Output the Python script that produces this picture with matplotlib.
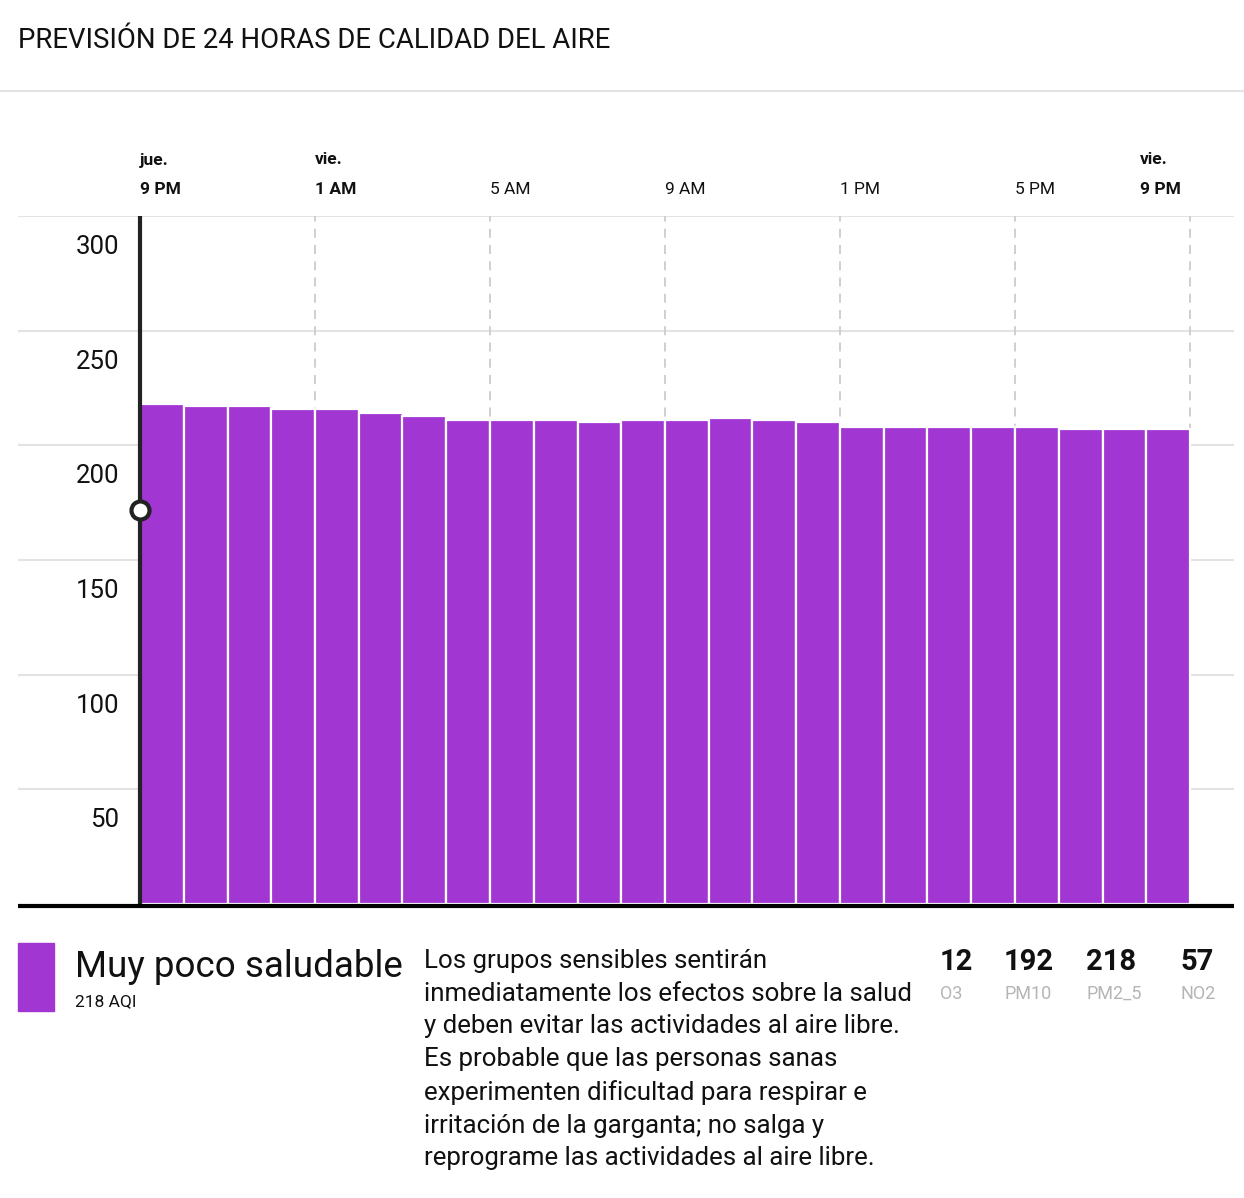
import matplotlib
matplotlib.use("Agg")
import matplotlib.pyplot as plt
import matplotlib.transforms as mtransforms

# forecast data (AQI per hour, starting jue. 9 PM)
aqi = [218, 217, 217, 216, 216, 214, 213, 211, 211, 211, 210, 211,
       211, 212, 211, 210, 208, 208, 208, 208, 208, 207, 207, 207]
tick_hours = [0, 4, 8, 12, 16, 20, 24]
tick_days = ["jue.", "vie.", "", "", "", "", "vie."]
tick_times = ["9 PM", "1 AM", "5 AM", "9 AM", "1 PM", "5 PM", "9 PM"]
y_ticks = [50, 100, 150, 200, 250, 300]
marker_value = 172

current_aqi = 218
category = "Muy poco saludable"
description = ("Los grupos sensibles sentirán\n"
               "inmediatamente los efectos sobre la salud\n"
               "y deben evitar las actividades al aire libre.\n"
               "Es probable que las personas sanas\n"
               "experimenten dificultad para respirar e\n"
               "irritación de la garganta; no salga y\n"
               "reprograme las actividades al aire libre.")
pollutants = ["O3", "PM10", "PM2_5", "NO2"]
pollutant_values = [12, 192, 218, 57]

purple = "#a236d2"
plt.rcParams["font.family"] = ["Roboto", "DejaVu Sans"]

W, H = 1244, 1198
fig = plt.figure(figsize=(W / 100, H / 100), dpi=100)

def fy(py):
    return 1 - py / H

# title + separator
fig.text(18 / W, fy(41), "PREVISIÓN DE 24 HORAS DE CALIDAD DEL AIRE",
         fontsize=19.8, va="center", ha="left", color="#111")
fig.add_artist(plt.Line2D([0, 1], [fy(91), fy(91)], color="#e3e3e3", lw=1.5))

# chart area
px_per_hour = 43.75
left_px, right_px, top_px, bot_px = 18, 1234, 216, 904
ax = fig.add_axes([left_px / W, fy(bot_px), (right_px - left_px) / W,
                   (bot_px - top_px) / H])
ax.set_xlim((left_px - 140) / px_per_hour, (right_px - 140) / px_per_hour)
ax.set_ylim(0, 300)
for s in ax.spines.values():
    s.set_visible(False)
ax.set_xticks([])
ax.set_yticks([])

for v in y_ticks:
    ax.axhline(v, color="#e3e3e3", lw=1.5, zorder=0)
    ax.text(-0.47, v - 13.5, str(v), ha="right", va="center", fontsize=18.5, color="#111")

for h in tick_hours[1:]:
    ax.axvline(h, color="#cccccc", lw=1.3, ls=(0, (5, 4)), zorder=0)

hours = list(range(len(aqi)))
ax.bar([h + 0.5 for h in hours], aqi, width=1.0, color=purple,
       edgecolor="white", linewidth=1.6, zorder=2)

ax.plot([0, 0], [0, 300], color="#222", lw=3, zorder=3, solid_capstyle="butt")
ax.axhline(-0.8, color="black", lw=3, zorder=4, clip_on=False, solid_capstyle="butt")
ax.plot([0], [marker_value], "o", ms=13, mfc="white", mec="#222", mew=3, zorder=5)

trans = mtransforms.blended_transform_factory(ax.transData, fig.transFigure)
for i, (h, d, t) in enumerate(zip(tick_hours, tick_days, tick_times)):
    bold = d != ""
    tr = trans
    if i == len(tick_hours) - 1:
        # last label is pulled inside the chart
        tr = trans + mtransforms.ScaledTranslation(-0.50, 0, fig.dpi_scale_trans)
    if d:
        ax.text(h, fy(160), d, transform=tr, ha="left", va="center",
                fontsize=12.5, fontweight="bold", color="#111")
    ax.text(h, fy(189), t, transform=tr, ha="left", va="center",
            fontsize=12.5, fontweight="bold" if bold else "normal", color="#111")

# bottom info
fig.add_artist(plt.Rectangle((18 / W, fy(1011)), 36 / W, 68 / H,
                             color=purple, transform=fig.transFigure))
fig.text(75 / W, fy(967), category, fontsize=26.5, va="center", ha="left", color="#111")
fig.text(75 / W, fy(1002), f"{current_aqi} AQI", fontsize=12.5, va="center",
         ha="left", color="#111")
fig.text(424 / W, fy(949), description, fontsize=18.6, va="top", ha="left",
         color="#111", linespacing=1.455)

poll_x = [940, 1004, 1086, 1181]
for x, name, val in zip(poll_x, pollutants, pollutant_values):
    fig.text(x / W, fy(962), str(val), fontsize=21, fontweight="bold",
             va="center", ha="left", color="#111")
    fig.text(x / W, fy(994), name, fontsize=13, va="center", ha="left",
             color="#b5b5b5")

fig.savefig("out.png", dpi=100)
